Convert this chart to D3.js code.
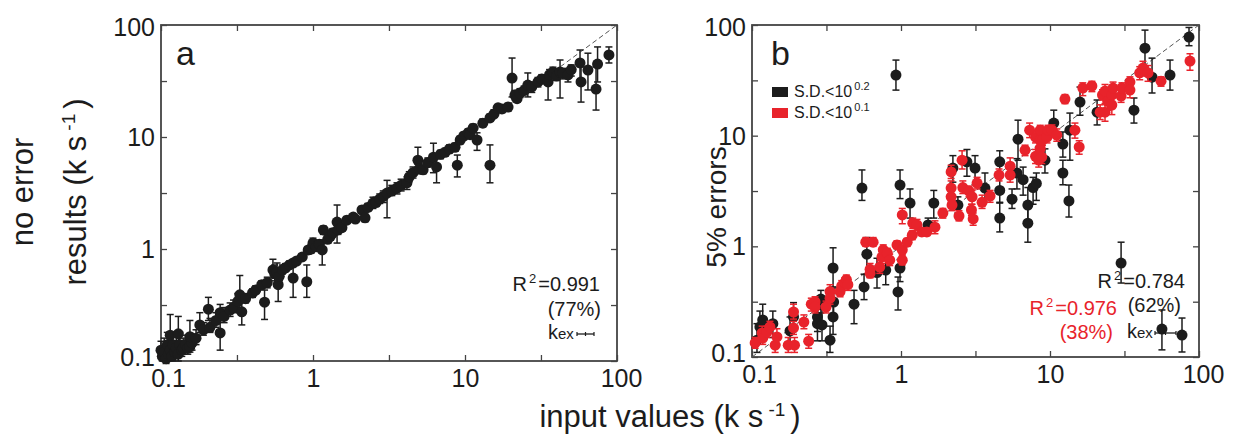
<!DOCTYPE html>
<html>
<head>
<meta charset="utf-8">
<script src="https://cdn.jsdelivr.net/npm/d3@7"></script>
<style>
  body { margin: 0; background: #fff; }
  svg { font-family: "Liberation Sans", Arial, Helvetica, sans-serif; }
</style>
</head>
<body>
<div id="chart"></div>
<script>
// each row: [input value, result, lower end of bar, upper end of bar]

// panel a, "no error"
const noErrorPts = [
  [0.10,0.125,0.105,0.15],[0.102,0.11,0.1,0.13],[0.105,0.12,0.1,0.16],[0.108,0.105,0.095,0.12],
  [0.11,0.14,0.12,0.18],[0.112,0.115,0.1,0.14],[0.115,0.125,0.105,0.17],[0.118,0.11,0.1,0.13],
  [0.12,0.14,0.12,0.17],[0.123,0.12,0.105,0.15],[0.126,0.13,0.11,0.17],[0.13,0.115,0.1,0.14],
  [0.133,0.14,0.12,0.18],[0.137,0.125,0.11,0.15],[0.14,0.13,0.115,0.16],[0.145,0.14,0.125,0.17],
  [0.15,0.13,0.115,0.155],[0.155,0.135,0.12,0.16],[0.16,0.145,0.125,0.17],[0.115,0.17,0.14,0.26],
  [0.13,0.175,0.15,0.25],[0.155,0.165,0.14,0.23],[0.17,0.16,0.14,0.19],[0.18,0.21,0.18,0.27],
  [0.19,0.19,0.17,0.22],[0.205,0.29,0.23,0.37],[0.21,0.2,0.18,0.24],[0.23,0.23,0.2,0.27],
  [0.245,0.178,0.125,0.23],[0.245,0.27,0.23,0.32],[0.26,0.25,0.22,0.3],[0.285,0.285,0.25,0.33],
  [0.3,0.3,0.27,0.35],[0.32,0.34,0.3,0.4],[0.33,0.39,0.27,0.58],[0.34,0.275,0.21,0.37],
  [0.36,0.36,0.33,0.4],[0.40,0.405,0.37,0.44],[0.42,0.43,0.4,0.47],[0.46,0.48,0.44,0.52],
  [0.48,0.335,0.235,0.43],[0.5,0.5,0.45,0.56],[0.545,0.65,0.55,0.81],[0.56,0.6,0.52,0.72],
  [0.58,0.62,0.55,0.75],[0.59,0.48,0.34,0.65],[0.6,0.57,0.52,0.64],[0.63,0.65,0.6,0.72],
  [0.66,0.68,0.63,0.74],[0.7,0.72,0.67,0.78],[0.74,0.55,0.37,0.72],[0.74,0.75,0.7,0.8],
  [0.78,0.78,0.73,0.84],[0.85,0.85,0.8,0.9],[0.91,0.51,0.37,0.72],[0.93,0.98,0.9,1.05],
  [0.97,1.0,0.92,1.1],[1.0,1.13,1.03,1.25],[1.05,1.05,0.98,1.12],[1.1,1.1,1.02,1.2],
  [1.15,0.98,0.72,1.2],[1.17,1.48,1.35,1.6],[1.25,1.22,1.13,1.33],[1.3,1.3,1.2,1.42],
  [1.35,1.4,1.28,1.52],[1.44,1.74,1.13,2.47],[1.46,1.48,1.35,1.62],[1.55,1.55,1.45,1.68],
  [1.67,1.81,1.7,1.95],[1.84,1.93,1.85,2.0],[1.9,1.85,1.78,1.95],[2.1,2.23,2.1,2.4],
  [2.2,1.9,1.75,2.1],[2.3,2.35,2.2,2.55],[2.48,2.57,2.3,2.9],[2.6,2.6,2.4,2.9],
  [2.75,2.8,2.55,3.1],[2.9,2.95,2.6,3.3],[3.07,3.16,1.9,4.1],[3.3,3.3,3.0,3.7],
  [3.57,3.5,3.1,3.9],[3.8,3.7,3.3,4.2],[4.15,3.9,3.4,4.4],[4.3,4.4,4.0,4.9],
  [4.55,4.8,4.3,5.4],[4.9,6.2,4.8,8.1],[5.0,5.2,4.7,5.8],[5.3,5.1,4.7,5.6],
  [5.7,5.9,5.4,6.5],[6.2,6.6,4.8,8.8],[6.5,5.4,3.9,6.6],[6.9,7.0,6.4,7.6],
  [7.4,7.3,6.8,7.9],[7.9,7.8,7.2,8.5],[8.6,8.1,7.5,8.8],[8.9,5.6,4.4,6.9],
  [9.3,9.4,8.7,10.2],[9.8,10.2,9.5,11],[10.5,10.9,10,11.8],[10.8,10.5,9.8,11.5],
  [11.3,12,11,13],[12,9.4,7.6,10.9],[13.1,13.3,12.3,14.5],[14.6,5.6,3.9,8.5],
  [14.6,14.8,13.8,16],[15.5,16,15,17.5],[16.5,18.2,17,19.5],[17.5,17.8,16.5,19],
  [19.2,18.5,17,20],[20.4,33.6,22.8,50.7],[21.3,23.7,21.5,26],[22,22,20.5,24],
  [23,24.7,22.5,27],[24.5,26,24,28.5],[25.9,29.1,22.8,37.3],[27.5,28,25,31],
  [30.2,31,28,34],[32,33,30,36],[35.2,31,21.4,35.8],[36,36,32,40],
  [37.9,38,34,42],[40,35,32,39],[42.2,38,22.3,48.7],[44,37,33,41],
  [47.6,35.8,31,40],[50,40,35,44],[57.1,45.8,32.3,59.8],[58,31,20.5,42.2],
  [64.4,39.6,26.3,56],[72.8,26.8,17.4,42.2],[74.5,44.8,31,63.7],[88.5,54,45.8,63.7]
];

// panel b, "5% errors", S.D. < 10^0.2
const blackPts = [
  [0.108,0.142,0.11,0.2],[0.113,0.187,0.14,0.26],[0.118,0.216,0.16,0.3],[0.138,0.2,0.15,0.26],
  [0.18,0.172,0.13,0.23],[0.19,0.23,0.17,0.31],[0.275,0.23,0.17,0.3],[0.275,0.2,0.14,0.28],
  [0.295,0.195,0.14,0.27],[0.29,0.334,0.25,0.4],[0.334,0.142,0.11,0.19],[0.35,0.23,0.16,0.3],
  [0.353,0.314,0.23,0.42],[0.35,0.637,0.43,0.97],[0.484,0.3,0.2,0.4],[0.547,3.36,2.6,4.9],
  [0.565,0.43,0.33,0.56],[0.59,0.85,0.56,1.2],[0.69,0.58,0.42,0.78],[0.79,0.61,0.45,0.8],
  [0.925,35.3,25.8,48.2],[0.955,0.387,0.266,0.528],[0.985,3.58,2.7,4.9],[0.985,0.637,0.48,0.76],
  [1.15,2.46,1.8,3.3],[1.52,1.56,1.35,1.8],[1.66,2.46,1.8,3.2],[2.23,5.1,3.8,6.6],
  [2.41,2.36,2.0,2.8],[2.77,5.8,4.3,7.5],[3.14,5.1,3.6,6.6],[3.66,3.36,2.5,4.6],
  [4.6,5.8,4.5,7.3],[4.6,3.2,2.5,4.2],[4.6,1.8,1.35,2.46],[5.56,2.67,2.2,3.3],
  [6.0,4.6,3.3,6.2],[6.1,9.3,6.0,13.8],[6.6,4.0,2.9,5.2],[7.1,2.36,1.7,3.4],
  [7.1,1.62,1.09,2.22],[7.7,3.4,2.4,4.2],[8.1,3.7,2.6,4.6],[9.25,6.0,4.6,7.6],
  [10.6,13,10,17],[12.2,8.4,6.4,10.8],[12.2,4.6,3.6,6.0],[13.4,2.57,1.84,3.58],
  [13.6,11.2,6.0,16],[15.9,20.1,15.3,27.5],[20.7,16.3,12.5,21],[30,0.706,0.466,1.09],
  [36.6,17,13,21.9],[43.4,61.8,41.7,89.9],[48.4,33.8,24.3,50.2],[56.4,0.179,0.116,0.266],
  [63.9,35.3,25.8,48.2],[76.9,0.158,0.111,0.225],[85.7,77.8,65,95]
];

// panel b, S.D. < 10^0.1
const redPts = [
  [0.105,0.134,0.12,0.15],[0.117,0.165,0.14,0.19],[0.118,0.148,0.13,0.17],[0.126,0.168,0.15,0.19],
  [0.132,0.187,0.165,0.21],[0.143,0.128,0.11,0.15],[0.147,0.152,0.13,0.18],[0.175,0.128,0.11,0.15],
  [0.19,0.255,0.22,0.3],[0.19,0.183,0.16,0.21],[0.193,0.128,0.11,0.15],[0.223,0.207,0.18,0.24],
  [0.24,0.139,0.12,0.16],[0.25,0.3,0.26,0.34],[0.265,0.314,0.28,0.35],[0.265,0.283,0.25,0.32],
  [0.314,0.283,0.25,0.32],[0.334,0.39,0.34,0.45],[0.334,0.34,0.3,0.39],[0.39,0.39,0.35,0.43],
  [0.4,0.44,0.4,0.49],[0.42,0.47,0.42,0.52],[0.43,0.5,0.44,0.55],[0.44,0.45,0.4,0.5],
  [0.58,1.09,1.0,1.2],[0.62,0.62,0.55,0.7],[0.62,0.57,0.52,0.63],[0.65,1.09,1.0,1.2],
  [0.72,0.65,0.57,0.74],[0.745,0.8,0.7,0.9],[0.76,0.93,0.83,1.03],[0.81,0.87,0.78,0.96],
  [0.84,0.75,0.67,0.85],[0.94,1.03,0.95,1.12],[1.02,1.92,1.6,2.2],[1.02,0.93,0.85,1.0],
  [1.02,0.75,0.68,0.83],[1.1,1.09,1.0,1.18],[1.19,1.26,1.15,1.38],[1.2,1.62,1.45,1.8],
  [1.28,1.56,1.4,1.75],[1.38,1.35,1.25,1.45],[1.49,1.35,1.25,1.45],[1.69,1.49,1.3,1.7],
  [1.91,2.0,1.8,2.2],[2.17,4.7,4.1,5.4],[2.17,3.36,2.9,3.9],[2.17,2.8,2.5,3.2],
  [2.2,2.36,2.1,2.6],[2.45,1.88,1.7,2.1],[2.57,6.0,5.0,7.3],[2.6,3.4,3.0,3.9],
  [2.86,3.16,2.8,3.5],[2.97,2.13,1.9,2.4],[3.0,2.8,2.4,3.2],[3.05,1.77,1.55,2.0],
  [3.24,3.73,3.3,4.2],[3.5,2.5,2.2,2.9],[3.96,2.85,2.5,3.2],[4.55,4.4,3.9,5.0],
  [5.4,5.3,4.5,6.3],[5.4,4.4,3.8,5.2],[6.8,7.4,6.6,8.2],[7.3,11.2,9.6,13],
  [8.0,9.7,8.6,11],[8.0,6.5,5.6,7.5],[8.4,6.0,5.2,7],[8.6,11.2,10,12.4],
  [8.6,9.1,8.2,10],[8.6,7.7,6.8,8.7],[8.8,6.4,5.6,7.3],[8.9,9.1,8.2,10],
  [9.55,9.7,8.6,11],[9.7,11.2,10,12.4],[10.3,11.2,10,12.5],[11.1,10.1,8.9,11.5],
  [12.6,21.4,19.5,23.5],[14.7,11.2,9.5,13],[15.7,7.9,6.8,9],[16.6,26.9,23,30],
  [19.1,28.1,25,31],[21.7,16.3,14,19],[22.5,23.3,21,26],[23.4,25.3,22,29],
  [23.4,16.3,13.5,19.5],[24.4,20.4,17,24],[26,23.3,20.5,26.5],[26,18.9,15.5,22],
  [26.5,26.9,23.5,30.5],[30,22.8,20,26],[30.4,26.9,24,30],[34.4,30.5,27,34],
  [34.4,25.8,22,30],[40,37,32,42],[42.1,40.8,35,47],[45.5,37,31,43],
  [55.6,31.1,28,34],[87,47.2,39,55]
];

const majorTicks = [0.1, 1, 10, 100];
const tickText = ["0.1", "1", "10", "100"];
const halfTicks = [0.1, 0.316, 1, 3.16, 10, 31.6, 100];
const legendText = [["S.D.<10", "0.2"], ["S.D.<10", "0.1"]];

const INK = "#1c1c1c", RED = "#e8232b", FRAME = "#444";

const svg = d3.select("#chart").append("svg")
  .attr("width", 1258).attr("height", 434);

function drawPanel(box, series) {
  const x = d3.scaleLog().domain([0.1, 100]).range([box.l, box.r]);
  const y = d3.scaleLog().domain([0.1, 100]).range([box.b, box.t]);
  const g = svg.append("g");

  // inward ticks on all four sides
  const tick = (axis, tr) => g.append("g").attr("transform", tr)
    .call(axis.tickValues(halfTicks).tickSize(-6).tickSizeOuter(0).tickFormat(""))
    .call(s => s.select(".domain").remove())
    .selectAll("line").attr("stroke", FRAME).attr("stroke-width", 1.3);
  tick(d3.axisBottom(x), `translate(0,${box.b})`);
  tick(d3.axisTop(x), `translate(0,${box.t})`);
  tick(d3.axisLeft(y), `translate(${box.l},0)`);
  tick(d3.axisRight(y), `translate(${box.r},0)`);

  g.append("rect")
    .attr("x", box.l).attr("y", box.t)
    .attr("width", box.r - box.l).attr("height", box.b - box.t)
    .attr("fill", "none").attr("stroke", FRAME).attr("stroke-width", 1.8);

  // tick labels
  const xl = g.append("g").attr("transform", `translate(0,${box.b})`)
    .call(d3.axisBottom(x).tickValues(majorTicks).tickSize(0).tickPadding(8)
      .tickFormat((d, i) => tickText[i]));
  xl.select(".domain").remove();
  xl.selectAll("text").attr("font-size", 25).attr("fill", INK)
    .attr("font-family", "Liberation Sans, Arial, sans-serif")
    .attr("dx", (d, i) => i === 0 ? 7 : (i === 3 ? 4 : 0));

  const yl = g.append("g").attr("transform", `translate(${box.l},0)`)
    .call(d3.axisLeft(y).tickValues(majorTicks).tickSize(0).tickPadding(6)
      .tickFormat((d, i) => tickText[i]));
  yl.select(".domain").remove();
  yl.selectAll("text").attr("font-size", 25).attr("fill", INK)
    .attr("font-family", "Liberation Sans, Arial, sans-serif")
    .attr("dy", (d, i) => i === 0 ? "0.18em" : (i === 3 ? "0.42em" : "0.34em"));

  // y = x guide
  g.append("line")
    .attr("x1", x(0.1)).attr("y1", y(0.1)).attr("x2", x(100)).attr("y2", y(100))
    .attr("stroke", "#555").attr("stroke-width", 1).attr("stroke-dasharray", "5,3");

  series.forEach(s => {
    const bars = g.append("g").attr("stroke", s.color).attr("stroke-width", 1.5);
    s.pts.forEach(p => {
      const cx = x(p[0]), y0 = y(p[2]), y1 = y(p[3]);
      bars.append("line").attr("x1", cx).attr("x2", cx).attr("y1", y0).attr("y2", y1);
      bars.append("line").attr("x1", cx - 3.5).attr("x2", cx + 3.5).attr("y1", y0).attr("y2", y0);
      bars.append("line").attr("x1", cx - 3.5).attr("x2", cx + 3.5).attr("y1", y1).attr("y2", y1);
    });
    g.append("g").selectAll("circle").data(s.pts).join("circle")
      .attr("cx", d => x(d[0])).attr("cy", d => y(d[1]))
      .attr("r", s.r).attr("fill", s.color);
  });
  return { x, y, g };
}

const pa = drawPanel({ l: 161, r: 617, t: 25, b: 361 },
  [{ pts: noErrorPts, color: INK, r: 5.5 }]);
const pb = drawPanel({ l: 752, r: 1199, t: 25, b: 357 },
  [{ pts: blackPts, color: INK, r: 5.5 }, { pts: redPts, color: RED, r: 5.5 }]);

// helpers for text
function label(x, y, size, fill, anchor) {
  return svg.append("text").attr("x", x).attr("y", y)
    .attr("font-size", size).attr("fill", fill).attr("text-anchor", anchor || "start");
}
function rsq(x, y, val, fill) {
  const t = label(x, y, 20, fill, "end");
  t.append("tspan").text("R");
  t.append("tspan").attr("font-size", 13).attr("dx", 2).attr("dy", -8).text("2");
  t.append("tspan").attr("dy", 8).attr("dx", 2).text("=" + val);
}
function kex(x, y, barX0, barX1) {
  const t = label(x, y, 20, INK);
  t.append("tspan").text("k");
  t.append("tspan").attr("font-size", 15).text("ex");
  const by = y - 5;
  svg.append("line").attr("x1", barX0).attr("x2", barX1).attr("y1", by).attr("y2", by)
    .attr("stroke", INK).attr("stroke-width", 1.3);
  [barX0, (barX0 + barX1) / 2, barX1].forEach(bx =>
    svg.append("line").attr("x1", bx).attr("x2", bx).attr("y1", by - 2).attr("y2", by + 2)
      .attr("stroke", INK).attr("stroke-width", 1.2));
}

// panel letters
label(176, 65, 34, INK).text("a");
label(771, 65, 34, INK).text("b");

// panel a annotations
rsq(600, 291, "0.991", INK);
label(601, 316, 20, INK, "end").text("(77%)");
kex(548, 339, 577, 594);

// panel b legend
[INK, RED].forEach((c, i) => {
  const yy = 87 + i * 21;
  svg.append("rect").attr("x", 772).attr("y", yy).attr("width", 16).attr("height", 10).attr("fill", c);
  const t = label(794, yy + 10, 16, INK);
  t.append("tspan").text(legendText[i][0]);
  t.append("tspan").attr("font-size", 11).attr("dx", 2).attr("dy", -7).text(legendText[i][1]);
});

// panel b annotations
rsq(1185, 288, "0.784", INK);
label(1181, 312, 20, INK, "end").text("(62%)");
rsq(1117, 315, "0.976", RED);
label(1113, 339, 20, RED, "end").text("(38%)");
kex(1127, 338, 1155, 1176);

// axis titles
function unitTitle(t, lead) {
  t.append("tspan").text(lead + "(k s");
  t.append("tspan").attr("font-size", 19).attr("dx", 5).attr("dy", -11).text("-1");
  t.append("tspan").attr("dx", 5).attr("dy", 11).text(")");
}
label(0, 0, 31, INK, "middle").attr("transform", "translate(33,192) rotate(-90)").text("no error");
unitTitle(label(0, 0, 31, INK, "middle").attr("transform", "translate(86,192) rotate(-90)"), "results ");
label(0, 0, 28, INK, "middle").attr("transform", "translate(726,207) rotate(-90)").text("5% errors");
unitTitle(label(670, 427, 31, INK, "middle"), "input values ");
</script>
</body>
</html>
